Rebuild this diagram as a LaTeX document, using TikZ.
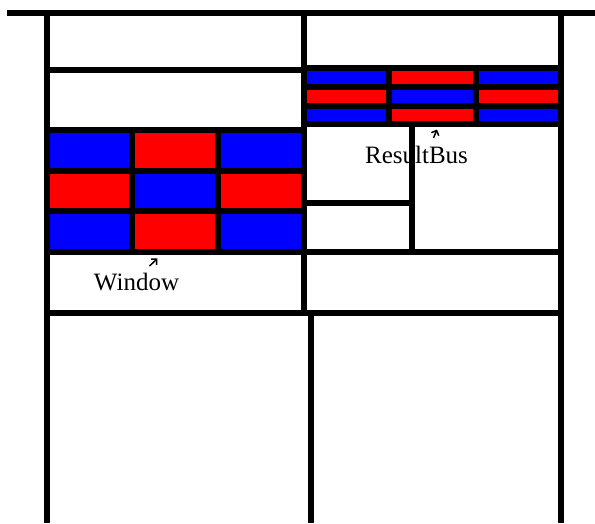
\documentclass[tikz,border=0pt]{standalone}
\usepackage{fontspec}
\setmainfont{Liberation Serif}
\usepackage{tikz}
\usetikzlibrary{arrows.meta,positioning}
\definecolor{cellblue}{RGB}{0,0,255}
\definecolor{cellred}{RGB}{255,0,0}

\begin{document}
\begin{tikzpicture}[
    x=1pt, y=-1pt,
    wall/.style={draw=black, line width=6pt, line cap=rect},
    bluecell/.style={fill=cellblue},
    redcell/.style={fill=cellred},
    tag/.style={font=\fontsize{25}{30}\selectfont, inner sep=0pt, anchor=base},
    pointer/.style={-{Straight Barb[length=4pt,width=8pt]}, line width=1.5pt},
]
\useasboundingbox[fill=white] (0,0) rectangle (595,523);

% window grid (left)
\fill[bluecell] (47,130) rectangle (132,171);
\fill[redcell] (132,130) rectangle (217.5,171);
\fill[bluecell] (217.5,130) rectangle (304,171);
\fill[redcell] (47,171) rectangle (132,211);
\fill[bluecell] (132,171) rectangle (217.5,211);
\fill[redcell] (217.5,171) rectangle (304,211);
\fill[bluecell] (47,211) rectangle (132,252);
\fill[redcell] (132,211) rectangle (217.5,252);
\fill[bluecell] (217.5,211) rectangle (304,252);

% result bus grid (right)
\fill[bluecell] (304,67.5) rectangle (389,87);
\fill[redcell] (389,67.5) rectangle (476,87);
\fill[bluecell] (476,67.5) rectangle (561,87);
\fill[redcell] (304,87) rectangle (389,106);
\fill[bluecell] (389,87) rectangle (476,106);
\fill[redcell] (476,87) rectangle (561,106);
\fill[bluecell] (304,106) rectangle (389,124);
\fill[redcell] (389,106) rectangle (476,124);
\fill[bluecell] (476,106) rectangle (561,124);

% outer frame
\draw[wall, line cap=butt] (7,12.5) -- (595,12.5);
\draw[wall, line cap=butt] (47,12.5) -- (47,523);
\draw[wall, line cap=butt] (561,12.5) -- (561,523);
\draw[wall, line cap=butt] (304,12.5) -- (304,313);
\draw[wall, line cap=butt] (311,313) -- (311,523);
\draw[wall] (47,313) -- (561,313);

% left column
\draw[wall] (47,70) -- (304,70);
\draw[wall] (47,130) -- (304,130);
\draw[wall] (47,171) -- (304,171);
\draw[wall] (47,211) -- (304,211);
\draw[wall] (47,252) -- (304,252);
\draw[wall] (132,130) -- (132,252);
\draw[wall] (217.5,130) -- (217.5,252);

% right column
\draw[wall] (304,67.5) -- (561,67.5);
\draw[wall] (304,87) -- (561,87);
\draw[wall] (304,106) -- (561,106);
\draw[wall] (304,124) -- (561,124);
\draw[wall] (389,67.5) -- (389,124);
\draw[wall] (476,67.5) -- (476,124);
\draw[wall] (412,124) -- (412,252);
\draw[wall] (304,203) -- (412,203);
\draw[wall] (304,252) -- (561,252);

% labels
\node[tag] (window) at (136.5,290) {Window};
\node[tag] (resultbus) at (416.5,163) {ResultBus};
\coordinate (windowtail) at (149.5,266);
\coordinate (windowtip) at (157.5,258.5);
\coordinate (bustail) at (433.5,138);
\coordinate (bustip) at (437,129.5);
\draw[pointer] (windowtail) -- (windowtip);
\draw[pointer] (bustail) -- (bustip);

\end{tikzpicture}
\end{document}
